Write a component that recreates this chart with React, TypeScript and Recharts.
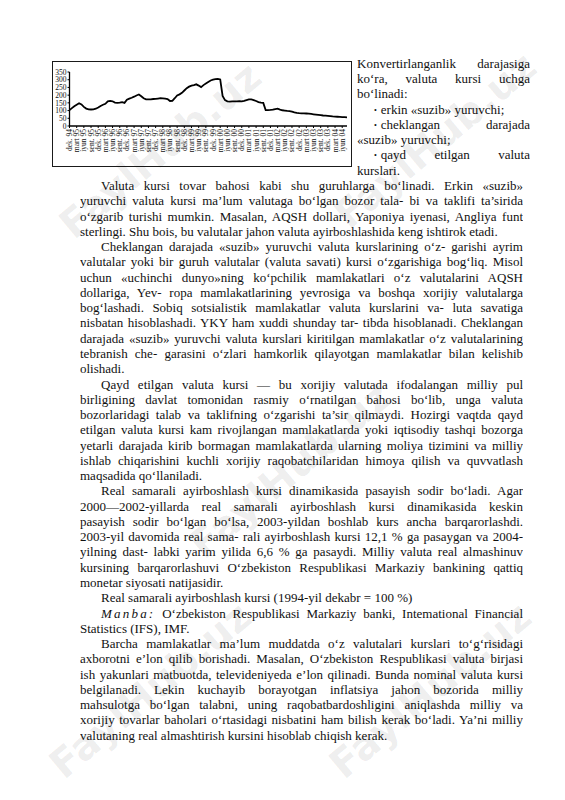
import React from "react";
import { LineChart, Line, XAxis, YAxis } from "recharts";

// quarterly tick labels, Dec 1994 .. Jun 2004
const QUARTER_LABELS = [
  "dek. 94", "mart 95", "iyun 95", "sent. 95", "dek. 95", "mart 96", "iyun 96", "sent. 96",
  "dek. 96", "mart 97", "iyun 97", "sent. 97", "dek. 97", "mart 98", "iyun 98", "sent. 98",
  "dek. 98", "mart 99", "iyun 99", "sent. 99", "dek. 99", "mart 00", "iyun 00", "sent. 00",
  "dek. 00", "mart 01", "iyun 01", "sent. 01", "dek. 01", "mart 02", "iyun 02", "sent. 02",
  "dek. 02", "mart 03", "iyun 03", "sent. 03", "dek. 03", "mart 04", "iyun 04",
];

// monthly real effective exchange rate, dek 1994 = 100
const RATE = [
  103, 116, 128, 138, 148, 140, 124, 113, 108, 107, 108, 112,
  120, 130, 138, 144, 160, 163, 160, 152, 150, 152, 155, 150,
  170, 177, 183, 190, 198, 204, 193, 180, 173, 172, 173, 175,
  176, 178, 180, 179, 178, 175, 162, 163, 180, 198, 205, 215,
  230, 245, 255, 262, 265, 270, 262, 252, 265, 275, 285, 295,
  300, 304, 305, 302, 195, 168, 160, 158, 160, 159, 160, 161,
  160, 163, 168, 172, 172, 168, 162, 155, 152, 150, 103, 103,
  104, 106, 110, 112, 106, 102, 100, 98, 97, 93, 88, 85,
  83, 82, 82, 81, 80, 78, 76, 74, 72, 70, 68, 67,
  66, 64, 62, 61, 60, 59, 58, 57, 56,
];

const Y_TICKS = [0, 50, 100, 150, 200, 250, 300, 350];

const RIGHT_LINES = [
  { t: "Konvertirlanganlik darajasiga" },
  { t: "ko‘ra, valuta kursi uchga" },
  { t: "bo‘linadi:", last: true },
  { t: "erkin «suzib» yuruvchi;", bullet: true, last: true },
  { t: "cheklangan darajada", bullet: true },
  { t: "«suzib» yuruvchi;", last: true },
  { t: "qayd etilgan valuta", bullet: true },
  { t: "kurslari.", last: true },
];

const BODY_LINES = [
  { t: "Valuta kursi tovar bahosi kabi shu guruhlarga bo‘linadi. Erkin «suzib»", indent: true },
  { t: "yuruvchi valuta kursi ma’lum valutaga bo‘lgan bozor tala- bi va taklifi ta’sirida" },
  { t: "o‘zgarib turishi mumkin. Masalan, AQSH dollari, Yaponiya iyenasi, Angliya funt" },
  { t: "sterlingi. Shu bois, bu valutalar jahon valuta ayirboshlashida keng ishtirok etadi.", last: true },
  { t: "Cheklangan darajada «suzib» yuruvchi valuta kurslarining o‘z- garishi ayrim", indent: true },
  { t: "valutalar yoki bir guruh valutalar (valuta savati) kursi o‘zgarishiga bog‘liq. Misol" },
  { t: "uchun «uchinchi dunyo»ning ko‘pchilik mamlakatlari o‘z valutalarini AQSH" },
  { t: "dollariga, Yev- ropa mamlakatlarining yevrosiga va boshqa xorijiy valutalarga" },
  { t: "bog‘lashadi. Sobiq sotsialistik mamlakatlar valuta kurslarini va- luta savatiga" },
  { t: "nisbatan hisoblashadi. YKY ham xuddi shunday tar- tibda hisoblanadi. Cheklangan" },
  { t: "darajada «suzib» yuruvchi valuta kurslari kiritilgan mamlakatlar o‘z valutalarining" },
  { t: "tebranish che- garasini o‘zlari hamkorlik qilayotgan mamlakatlar bilan kelishib" },
  { t: "olishadi.", last: true },
  { t: "Qayd etilgan valuta kursi — bu xorijiy valutada ifodalangan milliy pul", indent: true },
  { t: "birligining davlat tomonidan rasmiy o‘rnatilgan bahosi bo‘lib, unga valuta" },
  { t: "bozorlaridagi talab va taklifning o‘zgarishi ta’sir qilmaydi. Hozirgi vaqtda qayd" },
  { t: "etilgan valuta kursi kam rivojlangan mamlakatlarda yoki iqtisodiy tashqi bozorga" },
  { t: "yetarli darajada kirib bormagan mamlakatlarda ularning moliya tizimini va milliy" },
  { t: "ishlab chiqarishini kuchli xorijiy raqobatchilaridan himoya qilish va quvvatlash" },
  { t: "maqsadida qo‘llaniladi.", last: true },
  { t: "Real samarali ayirboshlash kursi dinamikasida pasayish sodir bo‘ladi. Agar", indent: true },
  { t: "2000—2002-yillarda real samarali ayirboshlash kursi dinamikasida keskin" },
  { t: "pasayish sodir bo‘lgan bo‘lsa, 2003-yildan boshlab kurs ancha barqarorlashdi." },
  { t: "2003-yil davomida real sama- rali ayirboshlash kursi 12,1 % ga pasaygan va 2004-" },
  { t: "yilning dast- labki yarim yilida 6,6 % ga pasaydi. Milliy valuta real almashinuv" },
  { t: "kursining barqarorlashuvi O‘zbekiston Respublikasi Markaziy bankining qattiq" },
  { t: "monetar siyosati natijasidir.", last: true },
  { t: "Real samarali ayirboshlash kursi (1994-yil dekabr = 100 %)", indent: true, last: true },
  { t: "O‘zbekiston Respublikasi Markaziy banki, Intemational Financial", indent: true, source: true },
  { t: "Statistics (IFS), IMF.", last: true },
  { t: "Barcha mamlakatlar ma’lum muddatda o‘z valutalari kurslari to‘g‘risidagi", indent: true },
  { t: "axborotni e’lon qilib borishadi. Masalan, O‘zbekiston Respublikasi valuta birjasi" },
  { t: "ish yakunlari matbuotda, televideniyeda e’lon qilinadi. Bunda nominal valuta kursi" },
  { t: "belgilanadi. Lekin kuchayib borayotgan inflatsiya jahon bozorida milliy" },
  { t: "mahsulotga bo‘lgan talabni, uning raqobatbardoshligini aniqlashda milliy va" },
  { t: "xorijiy tovarlar baholari o‘rtasidagi nisbatini ham bilish kerak bo‘ladi. Ya’ni milliy" },
  { t: "valutaning real almashtirish kursini hisoblab chiqish kerak.", last: true },
];

const data = RATE.map((v, m) => ({ m, v }));

const LH = 15.27;
const FONT = "'Liberation Serif', 'Times New Roman', serif";

const XTick = (props: any) => {
  const { x, y, payload } = props;
  const label = QUARTER_LABELS[payload.value / 3] || "";
  return (
    <text
      x={x}
      y={y}
      transform={`rotate(-90 ${x} ${y})`}
      textAnchor="end"
      dominantBaseline="central"
      fontSize={7.5}
      fontFamily={FONT}
      fill="#111"
    >
      {label}
    </text>
  );
};

const TextRow = ({ row, indent }: { row: any; indent: number }) => {
  const justify = row.last ? "left" : "justify";
  return (
    <div
      style={{
        height: LH,
        lineHeight: `${LH}px`,
        paddingLeft: row.indent || row.bullet ? indent : 0,
        textAlign: justify as any,
        textAlignLast: justify as any,
        overflow: "hidden",
      }}
    >
      {row.bullet && <span style={{ fontSize: 8, marginRight: 4, verticalAlign: 1 }}>•</span>}
      {row.source && (
        <span style={{ fontStyle: "italic", letterSpacing: 2.2 }}>Manba:</span>
      )}
      {row.source ? " " : ""}
      {row.t}
    </div>
  );
};

// faint diagonal watermark of the scanned page, kept inside the page
const Watermark = ({ x, y }: { x: number; y: number }) => (
  <div
    style={{
      position: "absolute",
      left: x,
      top: y,
      transform: "translate(-50%, -50%) rotate(-40deg)",
      fontFamily: "'DejaVu Sans', sans-serif",
      fontWeight: 700,
      fontSize: 40,
      color: "rgba(0,0,0,0.07)",
      whiteSpace: "nowrap",
      pointerEvents: "none",
    }}
  >
    FaylHub.uz
  </div>
);

export default function App() {
  return (
    <div
      style={{
        position: "absolute",
        left: 0,
        top: 0,
        width: 565,
        height: 800,
        background: "#fff",
        overflow: "hidden",
        fontFamily: FONT,
        fontSize: 13,
        color: "#111",
      }}
    >
      <div
        style={{
          position: "absolute",
          left: 52,
          top: 61,
          width: 300,
          height: 106,
          border: "1.5px solid #1a1a1a",
          boxSizing: "border-box",
        }}
      >
        <LineChart
          width={297}
          height={103}
          data={data}
          margin={{ top: 10, right: 3, bottom: 2, left: 0 }}
        >
          <XAxis
            dataKey="m"
            type="category"
            interval={2}
            height={37}
            tick={<XTick />}
            tickSize={2}
            tickMargin={1}
            axisLine={{ stroke: "#000", strokeWidth: 1.3 }}
            tickLine={{ stroke: "#000" }}
          />
          <YAxis
            domain={[0, 350]}
            ticks={Y_TICKS}
            width={16.5}
            tickSize={2}
            tickMargin={1}
            interval={0}
            tick={{ fontSize: 7.5, fill: "#111", fontFamily: FONT }}
            axisLine={{ stroke: "#000", strokeWidth: 1.3 }}
            tickLine={{ stroke: "#000" }}
          />
          <Line
            type="linear"
            dataKey="v"
            stroke="#000"
            strokeWidth={1.8}
            dot={false}
            isAnimationActive={false}
          />
        </LineChart>
      </div>

      <div style={{ position: "absolute", left: 357, top: 55.9, width: 173 }}>
        {RIGHT_LINES.map((row, i) => (
          <TextRow key={i} row={row} indent={17} />
        ))}
      </div>

      <div style={{ position: "absolute", left: 80, top: 178.1, width: 443 }}>
        {BODY_LINES.map((row, i) => (
          <TextRow key={i} row={row} indent={21} />
        ))}
      </div>

      <Watermark x={160} y={150} />
      <Watermark x={435} y={140} />
      <Watermark x={290} y={470} />
      <Watermark x={150} y={690} />
      <Watermark x={430} y={690} />
    </div>
  );
}
